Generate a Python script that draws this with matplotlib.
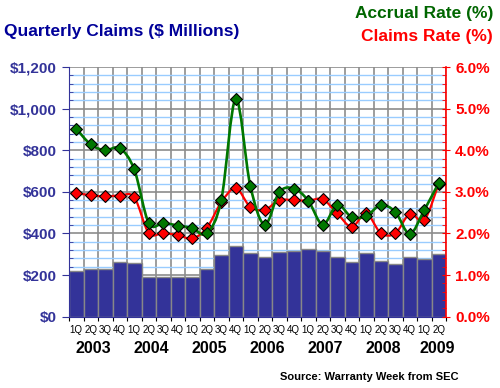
import numpy as np
import matplotlib
matplotlib.use('Agg')
import matplotlib.pyplot as plt
from matplotlib.path import Path
from matplotlib.patches import PathPatch
from matplotlib.ticker import MultipleLocator, FuncFormatter

plt.rcParams['font.family'] = ['Liberation Sans', 'DejaVu Sans']

# data
quarters = ['1Q', '2Q', '3Q', '4Q'] * 6 + ['1Q', '2Q']
years = ['2003', '2004', '2005', '2006', '2007', '2008', '2009']
claims = [218, 231, 231, 261, 257, 189, 189, 189, 189, 228, 295, 338, 305,
          285, 310, 314, 324, 317, 285, 261, 305, 266, 252, 285, 276, 300]
accrual_rate = [4.52, 4.14, 4.00, 4.05, 3.54, 2.25, 2.25, 2.19, 2.13, 2.00, 2.80,
                5.24, 3.15, 2.21, 2.99, 3.08, 2.79, 2.21, 2.69, 2.39, 2.42, 2.68,
                2.52, 1.99, 2.56, 3.22]
claims_rate = [2.97, 2.92, 2.89, 2.91, 2.87, 2.01, 2.01, 1.96, 1.88, 2.13, 2.75,
               3.09, 2.64, 2.57, 2.80, 2.80, 2.79, 2.82, 2.48, 2.16, 2.48, 2.01,
               2.00, 2.47, 2.32, 3.20]

navy = '#333399'
green = '#007700'
red = '#ff0000'

x = np.arange(len(claims))

fig = plt.figure(figsize=(5, 3.88), dpi=100)
ax = fig.add_axes([0.138, 0.184, 0.754, 0.643])
ax2 = ax.twinx()

# bars
ax.bar(x, claims, width=1.0, color=navy, edgecolor='#888888', linewidth=1, zorder=2)
ax.set_xlim(-0.5, len(claims) - 0.5)
ax.set_ylim(0, 1200)
ax.set_axisbelow(True)

ax.yaxis.set_major_locator(MultipleLocator(200))
ax.yaxis.set_minor_locator(MultipleLocator(40))
ax.yaxis.set_major_formatter(FuncFormatter(lambda v, p: '${:,.0f}'.format(v)))
ax.yaxis.grid(True, which='major', color='#8c8c8c', linewidth=1.2)
ax.yaxis.grid(True, which='minor', color='#99ccff', linewidth=1)
ax.set_xticks(np.arange(-0.5, len(claims), 1.0))
ax.set_xticklabels([])
ax.xaxis.grid(True, which='major', color='#8c8c8c', linewidth=1.2)
ax.set_xticks(x, minor=True)
ax.set_xticklabels(quarters, minor=True, fontsize=7)
ax.tick_params(axis='x', which='major', length=3, color='black')
ax.tick_params(axis='x', which='minor', length=0, pad=6)
ax.tick_params(axis='y', which='major', length=5, direction='out', color=navy,
               labelcolor=navy, labelsize=11)
ax.tick_params(axis='y', which='minor', length=3, direction='in', color=navy)
for lbl in ax.get_yticklabels():
    lbl.set_fontweight('bold')

for s in ['top', 'right']:
    ax.spines[s].set_visible(False)
ax.spines['left'].set_color(navy)
ax.spines['bottom'].set_color(navy)

# right axis with smooth lines
ax2.set_ylim(0, 6)
ax2.yaxis.set_major_locator(MultipleLocator(1))
ax2.yaxis.set_minor_locator(MultipleLocator(0.2))
ax2.yaxis.set_major_formatter(FuncFormatter(lambda v, p: '{:.1f}%'.format(v)))
ax2.tick_params(axis='y', which='major', length=6, direction='inout', color=red,
                labelcolor=red, labelsize=11)
ax2.tick_params(axis='y', which='minor', length=3, direction='in', color=red)
for lbl in ax2.get_yticklabels():
    lbl.set_fontweight('bold')
for s in ['top', 'left', 'bottom']:
    ax2.spines[s].set_visible(False)
ax2.spines['right'].set_color(red)
ax2.spines['right'].set_linewidth(1.2)


def smooth_path(xs, ys):
    pts = np.column_stack([xs, ys]).astype(float)
    verts = [pts[0]]
    codes = [Path.MOVETO]
    n = len(pts)
    for i in range(n - 1):
        p0 = pts[max(i - 1, 0)]
        p1 = pts[i]
        p2 = pts[i + 1]
        p3 = pts[min(i + 2, n - 1)]
        verts += [p1 + (p2 - p0) / 6, p2 - (p3 - p1) / 6, p2]
        codes += [Path.CURVE4] * 3
    return Path(verts, codes)


ax2.add_patch(PathPatch(smooth_path(x, claims_rate), fill=False, edgecolor=red,
                        linewidth=1.6, zorder=3))
ax2.plot(x, claims_rate, linestyle='none', marker='D', markersize=6.5,
         markerfacecolor=red, markeredgecolor='black', markeredgewidth=0.8, zorder=4)
ax2.add_patch(PathPatch(smooth_path(x, accrual_rate), fill=False, edgecolor=green,
                        linewidth=1.9, zorder=5))
ax2.plot(x, accrual_rate, linestyle='none', marker='D', markersize=6.5,
         markerfacecolor=green, markeredgecolor='black', markeredgewidth=0.8, zorder=6)

# year labels
year_pos = [1.2, 5.2, 9.2, 13.2, 17.2, 21.2, 24.9]
for pos, yr in zip(year_pos, years):
    ax.text(pos, -0.128, yr, transform=ax.get_xaxis_transform(), ha='center',
            va='center', fontsize=11.5, fontweight='bold')

# titles
fig.text(0.008, 0.92, 'Quarterly Claims ($ Millions)', color='#000099',
         fontsize=12.5, fontweight='bold', va='center', ha='left')
fig.text(0.986, 0.965, 'Accrual Rate (%)', color='#006600',
         fontsize=12.5, fontweight='bold', va='center', ha='right')
fig.text(0.986, 0.907, 'Claims Rate (%)', color=red,
         fontsize=12.5, fontweight='bold', va='center', ha='right')
fig.text(0.916, 0.028, 'Source: Warranty Week from SEC', color='black',
         fontsize=8, fontweight='bold', va='center', ha='right')

fig.savefig('out.png', dpi=100)
